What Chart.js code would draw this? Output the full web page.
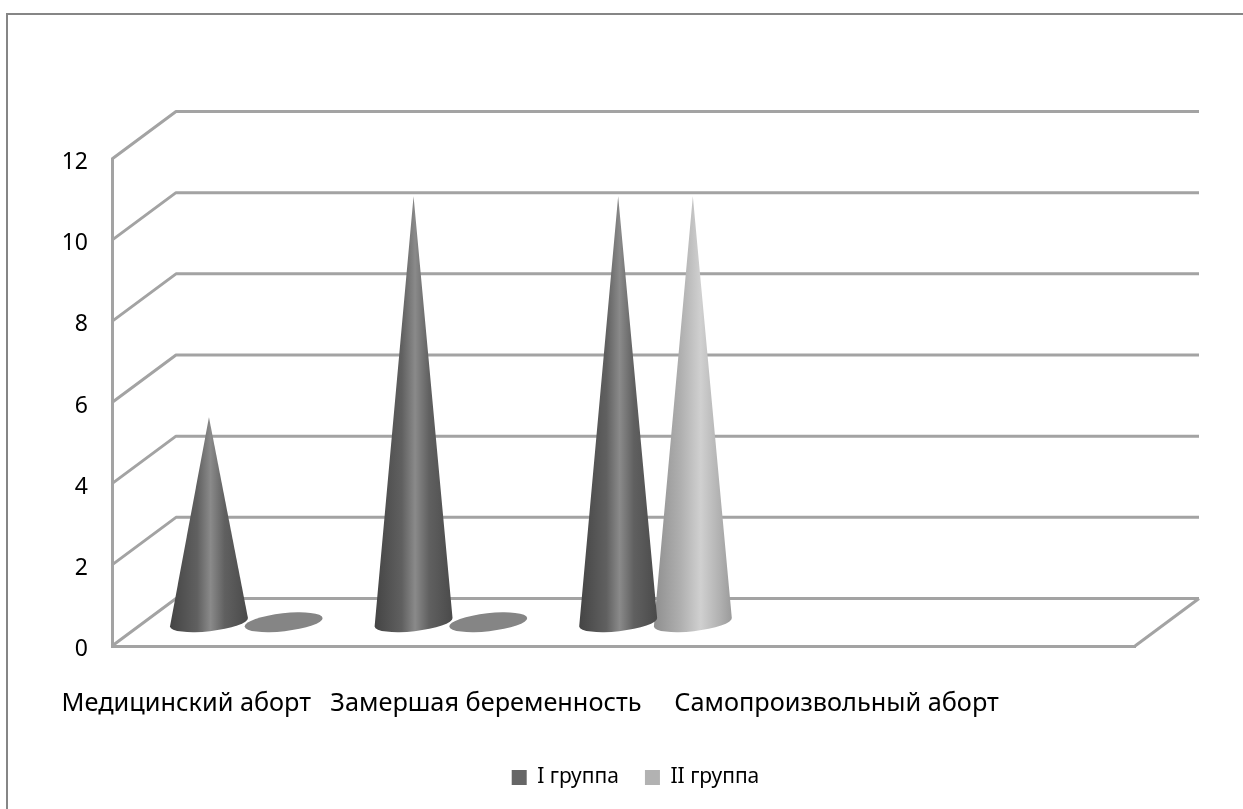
<!DOCTYPE html>
<html>
<head>
<meta charset="utf-8">
<title>Chart</title>
<script src="https://cdn.jsdelivr.net/npm/chart.js@4"></script>
<style>
  html, body { margin: 0; padding: 0; background: #fff; overflow: hidden; }
  #wrap { position: relative; width: 1243px; height: 809px; }
  #frame { position: absolute; left: 6px; top: 13px; right: 0; bottom: 0;
           border-left: 2px solid #868686; border-top: 2px solid #868686; }
  canvas { position: absolute; left: 0; top: 0; }
</style>
</head>
<body>
<div id="wrap">
  <div id="frame"></div>
  <canvas id="coneChart" width="1243" height="809"></canvas>
</div>
<script>
// === Data ===
const categories = ["Медицинский аборт", "Замершая беременность", "Самопроизвольный аборт", "", ""];
const groupOne = [5.05, 10.5, 10.5, null, null];
const groupTwo = [0, 0, 10.5, null, null];
const seriesNames = ["I группа", "II группа"];
const yTicks = [0, 2, 4, 6, 8, 10, 12];

// === Look ===
const FONT = "'Noto Sans', sans-serif";
const WALL = "#a3a3a3";
const depth = { dx: 64, dy: 47.5 };
const labelShift = [-28, 67, 213];   // the original labels are not centred on their bars
const shades = [
  [[0, "#444444"], [0.35, "#606060"], [0.52, "#8a8a8a"], [0.7, "#606060"], [1, "#4a4a4a"]],
  [[0, "#8e8e8e"], [0.35, "#b0b0b0"], [0.6, "#d0d0d0"], [0.85, "#b0b0b0"], [1, "#9a9a9a"]]
];

// === 3D walls, floor and cones ===
const conePlugin = {
  id: "cones",
  afterUpdate(chart) {
    // legend sits right of the canvas middle
    chart.legend.left += 68;
    chart.legend.right += 68;
  },
  beforeDatasetsDraw(chart) {
    const { ctx, chartArea, scales } = chart;
    ctx.save();
    ctx.strokeStyle = WALL;
    ctx.lineWidth = 3;
    ctx.lineJoin = "round";
    scales.y.ticks.forEach(t => {
      const y = scales.y.getPixelForValue(t.value);
      ctx.beginPath();
      ctx.moveTo(chartArea.left, y);
      ctx.lineTo(chartArea.left + depth.dx, y - depth.dy);
      ctx.lineTo(chartArea.right + depth.dx, y - depth.dy);
      ctx.stroke();
    });
    // floor right edge
    const y0 = scales.y.getPixelForValue(0);
    ctx.beginPath();
    ctx.moveTo(chartArea.right, y0);
    ctx.lineTo(chartArea.right + depth.dx, y0 - depth.dy);
    ctx.stroke();
    ctx.restore();
  },
  beforeDatasetDraw(chart, args) {
    const { ctx } = chart;
    const values = chart.data.datasets[args.index].data;
    args.meta.data.forEach((bar, i) => {
      if (values[i] === null) return;
      const cx = bar.x + depth.dx / 2;
      const baseY = bar.base - depth.dy / 2;
      const rx = bar.width * 0.525;
      ctx.save();
      ctx.beginPath();
      if (values[i] === 0) {
        ctx.ellipse(cx, baseY, rx, 9, -0.11, 0, Math.PI * 2);
        ctx.fillStyle = "#858585";
      } else {
        ctx.moveTo(cx, bar.y - depth.dy / 2);
        ctx.ellipse(cx, baseY, rx, 9, -0.11, 0, Math.PI);
        ctx.closePath();
        const g = ctx.createLinearGradient(cx - rx, 0, cx + rx, 0);
        shades[args.index].forEach(s => g.addColorStop(s[0], s[1]));
        ctx.fillStyle = g;
      }
      ctx.fill();
      ctx.restore();
    });
    return false; // skip the flat bar
  },
  afterDraw(chart) {
    const { ctx, scales } = chart;
    ctx.save();
    ctx.font = "25.3px " + FONT;
    ctx.fillStyle = "#000";
    ctx.textAlign = "center";
    ctx.textBaseline = "middle";
    categories.forEach((name, i) => {
      if (name) ctx.fillText(name, scales.x.getPixelForValue(i) + labelShift[i], 704);
    });
    ctx.restore();
  }
};

// === Chart ===
new Chart(document.getElementById("coneChart").getContext("2d"), {
  type: "bar",
  data: {
    labels: categories,
    datasets: [
      { label: seriesNames[0], data: groupOne, backgroundColor: "#666666" },
      { label: seriesNames[1], data: groupTwo, backgroundColor: "#b2b2b2" }
    ]
  },
  options: {
    responsive: false,
    animation: false,
    barPercentage: 1,
    categoryPercentage: 0.73,
    layout: { padding: { left: 0, right: 108, top: 159, bottom: 11 } },
    plugins: {
      title: { display: false },
      tooltip: { enabled: false },
      legend: {
        position: "bottom",
        labels: {
          font: { family: FONT, size: 21 },
          color: "#000",
          boxWidth: 15,
          boxHeight: 15,
          padding: 26
        }
      }
    },
    scales: {
      x: {
        offset: true,
        grid: { display: false },
        border: { color: WALL, width: 3 },
        ticks: { display: false },
        afterFit(s) { s.height = 95; }
      },
      y: {
        min: 0,
        max: 12,
        afterBuildTicks(s) { s.ticks = yTicks.map(v => ({ value: v })); },
        grid: { display: false },
        border: { color: WALL, width: 3 },
        ticks: { font: { family: FONT, size: 23 }, color: "#000", padding: 16, labelOffset: 3.5 },
        afterFit(s) { s.width = 112; }
      }
    }
  },
  plugins: [conePlugin]
});
</script>
</body>
</html>
